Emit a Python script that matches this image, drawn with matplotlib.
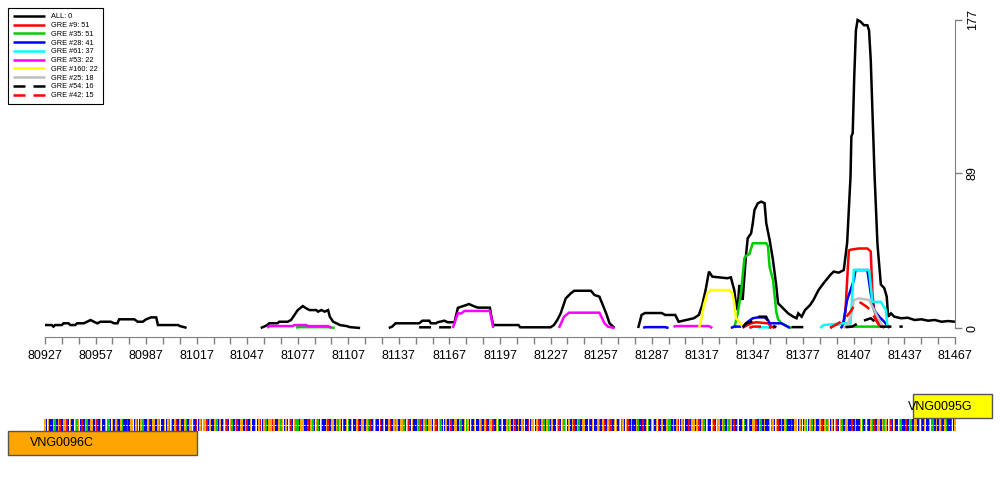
import numpy as np
import matplotlib
matplotlib.use("Agg")
import matplotlib.pyplot as plt
from matplotlib.patches import Rectangle

plt.rcParams['font.family'] = ['Liberation Sans', 'DejaVu Sans']

# ---------------- data (genomic position, value); None = gap ----------------
ALL = [(80927,1.7),(80931,1.7),(80932,0.8),(80933,1.7),(80937,1.7),(80938,2.7),(80941,2.7),(80942,1.7),
       (80945,1.7),(80946,2.7),(80950,2.7),(80952,3.6),(80954,4.6),(80956,3.6),(80958,2.7),(80960,3.6),
       (80966,3.6),(80968,2.7),(80970,2.7),(80971,5.0),(80980,5.0),(80982,3.6),(80985,3.6),(80987,5.0),
       (80990,6.1),(80993,6.1),(80994,1.7),(81006,1.7),(81007,1.1),(81010,0.4),(81011,0), None,
       (81055,0),(81057,0.8),(81059,1.7),(81060,2.7),(81065,2.7),(81066,3.6),(81071,3.6),(81073,4.6),
       (81075,7.5),(81077,10.3),(81080,12.6),(81082,11.3),(81084,10.3),(81088,10.3),(81089,9.4),(81091,10.3),
       (81093,9.4),(81095,10.3),(81096,6.5),(81098,3.6),(81100,2.7),(81102,1.7),(81106,1.1),(81108,0.5),
       (81114,0), None,
       (81131,0),(81133,0.8),(81135,2.7),(81149,2.7),(81151,4.2),(81155,4.2),(81156,2.7),(81159,2.7),
       (81160,3.3),(81164,4.2),(81166,3.3),(81170,3.3),(81172,11.6),(81177,13.2),(81178.5,13.8),(81182,12.3),
       (81184,11.7),(81191,11.7),(81192,6),(81193,1.7),(81208,1.7),(81209,0.4),(81227,0.4),(81229,1.7),
       (81231,4.6),(81233,8.4),(81236,17),(81239,19.9),(81241,21.4),(81251,21.4),(81253,19),(81256,18),
       (81258,13.2),(81260,8.4),(81262,2.7),(81265,0), None,
       (81279,0),(81281,7.5),(81283,8.6),(81293,8.6),(81295,7.5),(81301,7.5),(81303,3.6),(81312,5.6),
       (81315,7.5),(81317,13.2),(81319,21.8),(81321,32.4),(81323,29.5),(81332,28.6),(81334,29.1),(81336,21.8),
       (81337,14.2),(81338,10.3),(81339,24.7),(81340,21.8),(81341,16.1),(81342,29.5),(81343,42),(81344,51.6),
       (81346,54.4),(81347,60.2),(81348,67.8),(81350,71.7),(81352,72.6),(81354,71.7),(81355,60.2),(81357,50.6),
       (81359,39),(81361,23.8),(81362,14.2),(81365,11.3),(81368,8.4),(81371,6.5),(81373,5.6),(81374,8.4),
       (81376,6.5),(81378,10.3),(81381,13.2),(81383,16.1),(81386,21.8),(81389,25.7),(81393,30.5),(81395,32.4),
       (81398,31.8),(81401,33.3),(81403,49),(81405,87),(81405.5,110),(81406.3,112),(81407.2,144),(81408.2,171),
       (81409.2,177),(81411,176),(81413,174),(81415,174),(81416,171),(81417,154),(81418,125),(81419.3,87),
       (81421,48),(81423,25),(81425,23),(81426.5,18),(81427.3,6.5),(81429,8.4),(81431,6.5),(81435,5.6),
       (81439,5.9),(81443,4.6),(81447,5),(81451,4.2),(81455,4.6),(81459,3.6),(81463,4),(81467,3.6)]

GRE9 = [(81341,0),(81342,0.8),(81344,1.7),(81346,2.7),(81349,3.3),(81356,2.7),(81358,0.8),(81360,0), None,
        (81393,0),(81395,1.7),(81401,2.7),(81402,10.3),(81404,44.5),(81405,45),(81410,45.7),(81415,45.7),
        (81417,44),(81418,19.9),(81419,10.3),(81421,4.6),(81423,1.7),(81425,0)]

GRE35 = [(81076,0),(81077,0.5),(81096,0.5),(81099,0), None,
         (81336,0),(81338,8),(81340,20),(81341,30),(81342,40),(81343,41.5),(81345,42.5),(81347,48.7),
         (81355,48.7),(81356,47),(81357,35),(81359,27.6),(81360,18),(81361,9),(81362,5),(81364,2.7),
         (81368,0.8),(81370,0), None,
         (81403,0.3),(81404,0.8),(81421,0.8),(81422,0.3)]

GRE28 = [(81282,0),(81283,0.5),(81295,0.5),(81297,0), None,
         (81334,0),(81336,0.8),(81341,0.8),(81343,2.5),(81344,3.6),(81347,5.6),(81350,6.1),(81354,6.1),
         (81356,4.6),(81357,2.7),(81364,2.7),(81367,1.1),(81369,0), None,
         (81399,0),(81400,0.7),(81401,4.6),(81403,16.1),(81405,21.8),(81407,27.6),(81408,33.3),(81415,33.3),
         (81417,19.9),(81419,10.3),(81422,6.5),(81425,3.6),(81428,0)]

GRE61 = [(81350,0),(81351,0.4),(81356,0.4),(81357,0), None,
         (81387,0),(81389,1.7),(81401,2.7),(81405,2.7),(81407,33.3),(81416,33.3),(81418,15),(81423,15),
         (81426,10.3),(81427,0)]

GRE53 = [(81059,0),(81060,1.1),(81074,1.1),(81075,1.7),(81082,1.7),(81083,1.1),(81095,1.1),(81097,0), None,
         (81169,0),(81172,8.4),(81174,8.4),(81176,9.8),(81191,9.8),(81193,0), None,
         (81232,0),(81235,6.5),(81238,8.8),(81256,8.8),(81259,2.7),(81261,0.8),(81265,0), None,
         (81300,0.6),(81301,1.1),(81321,1.1),(81323,0)]

GRE160 = [(81315,0),(81316,2.7),(81318,13.2),(81320,19.9),(81322,21.8),(81333,21.8),(81335,19.9),
          (81336,14.2),(81337,5.6),(81338,4.6),(81340,2.7),(81341,0)]

GRE25 = [(81401,0),(81403,1.7),(81405,6.5),(81407,16.1),(81410,17),(81416,16.1),(81418,12.3),
         (81421,6.5),(81424,0.7)]

GRE54 = [(81149,0.4),(81168,0.4), None,
         (81341,0.3),(81343,2.7),(81346,3.6),(81349,6.5),(81355,6.5),(81356,3.6),(81358,1.7),(81361,0.4), None,
         (81370,0.5),(81377,0.5), None,
         (81402,0.5),(81406,0.8),(81411,3.6),(81417,5.6),(81419,4),(81421,0.8),(81436,0.8)]

GRE42 = [(81345,0),(81347,0.8),(81356,0.8),(81358,0), None,
         (81393,0),(81401,4.6),(81405,9.4),(81408,14.2),(81411,14.6),(81414,12.6),(81417,10.3),
         (81420,4.6),(81423,0)]

series_labels = ['ALL: 0', 'GRE #9: 51', 'GRE #35: 51', 'GRE #28: 41', 'GRE #61: 37',
                 'GRE #53: 22', 'GRE #160: 22', 'GRE #25: 18', 'GRE #54: 16', 'GRE #42: 15']
series_data = [ALL, GRE9, GRE35, GRE28, GRE61, GRE53, GRE160, GRE25, GRE54, GRE42]
series_colors = ['black', '#FF0000', '#00CD00', '#0000FF', '#00FFFF', '#FF00FF', '#FFFF00',
                 '#BEBEBE', 'black', '#FF0000']
series_dashed = [False] * 8 + [True, True]

x_start, x_end = 80927, 81467
x_major = list(range(80927, 81468, 30))
x_minor = list(range(80927, 81468, 10))
y_ticks = [0, 89, 177]

sequence = ("GCGCCGACGTCGGTCGCCGAGCTCGACGGCGTCGCCGAACGCGTCGACCTCGGCGTCGAC"
            "CGTCGGCGACCGCGAGCGTCGCCGACGGTCTCGAGGTCGCCGACGCGATCGACGTCGGCG"
            "TCGCCGCGTCGACGGTGCCGAGCGCGTCGAACGGCCTCGACGACGCCGTCGGCGAGCTCG"
            "ACGCCGTCGGCGATCGACCTCGCCGTCGAGCGGACGTCGCCGATCGACGGCGTCGACCGC"
            "GTCGGCGACGAGCTCGCCGACGTCGGTCGACGCCGAGCGTCGCGACCTCGGCGTCGACGA"
            "CGCCGTCGAGCGCGTCGACGGCCTCGCCGACGTCGATCGGCGAGCGTCGCCGACCTCGAC"
            "GGCGTCGCCGAACGCGTCGACCTCGGCGTCGACGCCGTCGGCGACGAGCTCGCCGACGTC"
            "GGTCGACGCCGAGCGTCGCGACCTCGGCGTCGACGACGCCGTCGAGCGCGTCGACGGCCT"
            "CGCCGACGTCGATCGGCGAGCGTCGCCGACCTCGACGGCGTCGCCGAACGCGTCGACCTCG")
base_colors = {'A': '#00C800', 'C': '#0000FF', 'G': '#FFA500', 'T': '#FF0000'}

gene_names = ['VNG0096C', 'VNG0095G']
gene_start = [80905, 81442]
gene_end = [81017, 81489]
gene_colors = ['#FFA500', '#FFFF00']
gene_label_x = [80918, 81439]


def to_xy(pairs):
    xs, ys = [], []
    for p in pairs:
        if p is None:
            xs.append(np.nan); ys.append(np.nan)
        else:
            xs.append(p[0]); ys.append(p[1])
    return np.array(xs, float), np.array(ys, float)


# ---------------- figure ----------------
W, H = 1000, 500
fig = plt.figure(figsize=(10, 5), dpi=100)

left_px, right_px = 45, 955
top_px, zero_px = 20, 328
ax = fig.add_axes([left_px / W, 1 - zero_px / H, (right_px - left_px) / W, (zero_px - top_px) / H], zorder=2)
ax.patch.set_alpha(0)
ax.set_xlim(x_start, x_end)
ax.set_ylim(0, 177)

handles = []
for data, lab, col, dash in zip(series_data, series_labels, series_colors, series_dashed):
    xs, ys = to_xy(data)
    ls = (0, (4.8, 3.2)) if dash else '-'
    h, = ax.plot(xs, ys, color=col, lw=1.8, ls=ls, clip_on=False, label=lab,
                 solid_joinstyle='miter', solid_capstyle='butt')
    handles.append(h)

# axes styling
for s in ['top', 'left']:
    ax.spines[s].set_visible(False)
ax.spines['bottom'].set_position(('outward', 6.5))
ax.spines['bottom'].set_bounds(x_start, x_end)
ax.spines['bottom'].set_color('#808080')
ax.spines['right'].set_color('#808080')
ax.spines['right'].set_bounds(0, 177)
ax.yaxis.tick_right()
ax.set_yticks(y_ticks)
ax.set_yticklabels([str(v) for v in y_ticks], rotation=90, va='center', fontsize=9)
ax.tick_params(axis='y', length=5, width=1, color='#808080', pad=3.5)
ax.set_xticks(x_major)
ax.set_xticklabels([str(v) for v in x_major], fontsize=9)
ax.set_xticks(x_minor, minor=True)
ax.tick_params(axis='x', which='both', length=5, width=1, color='#808080', pad=4.5)

leg = ax.legend(handles=handles, loc='upper left', bbox_to_anchor=(8 / W, 1 - 8 / H),
                bbox_transform=fig.transFigure, fontsize=5.3, handlelength=4.3,
                handletextpad=0.9, labelspacing=0.22, borderpad=0.7, borderaxespad=0,
                fancybox=False, framealpha=1, edgecolor='black')
leg.get_frame().set_linewidth(0.8)

# ---------------- sequence / gene track ----------------
k = (x_end - x_start) / (right_px - left_px)
at = fig.add_axes([0, 0, 1, 1], zorder=1)
at.set_xlim(x_start - left_px * k, x_start + (W - left_px) * k)
at.set_ylim(H, 0)
at.axis('off')
at.patch.set_alpha(0)

pos = np.arange(x_start, x_start + len(sequence))
cols = [base_colors[b] for b in sequence]
at.bar(pos, 12, bottom=419, width=0.92, color=cols, linewidth=0)
at.plot([x_start - 0.5, x_start + len(sequence) - 0.5], [425, 425], color='white', lw=0.7,
        ls=(0, (1.5, 1.5)))

gene_y = [(431, 455), (394, 418)]
for name, s, e, c, lx, (y0, y1) in zip(gene_names, gene_start, gene_end, gene_colors, gene_label_x, gene_y):
    at.add_patch(Rectangle((s, y0), e - s, y1 - y0, facecolor=c, edgecolor='#555555', lw=1.0))
    at.text(lx, (y0 + y1) / 2 + 0.5, name, fontsize=9, ha='left', va='center', color='black')

fig.savefig('out.png', dpi=100)
